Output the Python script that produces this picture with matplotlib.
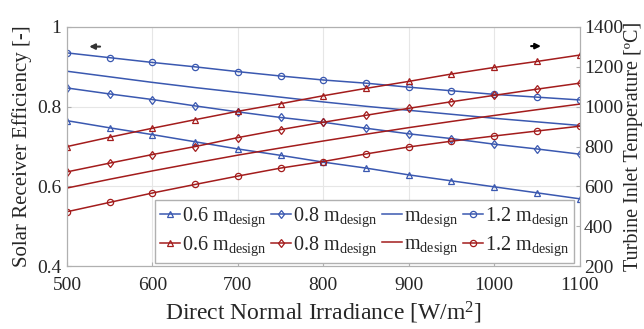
import numpy as np
import matplotlib.pyplot as plt

plt.rcParams['font.family'] = ['Liberation Serif', 'DejaVu Serif']
plt.rcParams['mathtext.fontset'] = 'custom'
plt.rcParams['mathtext.rm'] = 'Liberation Serif'
plt.rcParams['mathtext.it'] = 'Liberation Serif:italic'

dni = [500, 550, 600, 650, 700, 750, 800, 850, 900, 950, 1000, 1050, 1100]

# receiver efficiency [-]
eff_06 = [0.765, 0.747, 0.730, 0.712, 0.694, 0.678, 0.661, 0.646, 0.629, 0.614, 0.599, 0.584, 0.569]
eff_08 = [0.847, 0.832, 0.818, 0.802, 0.787, 0.773, 0.761, 0.746, 0.732, 0.720, 0.706, 0.694, 0.681]
eff_10 = [0.889, 0.875, 0.861, 0.848, 0.836, 0.824, 0.812, 0.801, 0.791, 0.781, 0.771, 0.762, 0.753]
eff_12 = [0.935, 0.923, 0.911, 0.900, 0.888, 0.877, 0.867, 0.859, 0.849, 0.840, 0.831, 0.824, 0.817]

# turbine inlet temperature [C]
tit_06 = [800, 847, 892, 935, 977, 1015, 1055, 1092, 1127, 1164, 1197, 1227, 1259]
tit_08 = [673, 717, 760, 800, 845, 885, 922, 957, 992, 1025, 1057, 1088, 1118]
tit_10 = [592, 636, 678, 718, 757, 793, 828, 862, 895, 926, 956, 985, 1013]
tit_12 = [473, 520, 567, 610, 652, 692, 725, 763, 798, 827, 853, 878, 902]

labels = ['0.6 m$_{\\mathrm{design}}$', '0.8 m$_{\\mathrm{design}}$',
          'm$_{\\mathrm{design}}$', '1.2 m$_{\\mathrm{design}}$']
markers = ['^', 'd', None, 'o']

blue = '#3a58b0'
red = '#a31c1c'
txt = '#262626'

fig, ax = plt.subplots(figsize=(6.44, 3.29), dpi=100)
fig.subplots_adjust(left=0.104, right=0.9, top=0.918, bottom=0.191)
ax2 = ax.twinx()

hb = []
for y, m, lab in zip([eff_06, eff_08, eff_10, eff_12], markers, labels):
    l, = ax.plot(dni, y, color=blue, lw=1.1, marker=m, ms=4.5, mfc='none',
                 mew=0.9, label=lab)
    hb.append(l)
hr = []
for y, m, lab in zip([tit_06, tit_08, tit_10, tit_12], markers, labels):
    l, = ax2.plot(dni, y, color=red, lw=1.1, marker=m, ms=4.5, mfc='none',
                  mew=0.9, label=lab)
    hr.append(l)

ax.set_xlim(500, 1100)
ax.set_ylim(0.4, 1.0)
ax2.set_ylim(200, 1400)
ax.set_xticks(range(500, 1101, 100))
ax.set_yticks([0.4, 0.6, 0.8, 1.0])
ax.set_yticklabels(['0.4', '0.6', '0.8', '1'])
ax2.set_yticks(range(200, 1401, 200))
ax.grid(True, color='#e6e6e6', lw=0.8)
ax.set_axisbelow(True)

for a in (ax, ax2):
    for s in a.spines.values():
        s.set_color('#b0b0b0')
        s.set_linewidth(0.8)
    a.tick_params(labelsize=14, colors=txt, direction='in', length=3,
                  color='#b0b0b0')
ax.tick_params(axis='x', pad=8)
ax.tick_params(axis='y', pad=4)
ax2.tick_params(axis='y', pad=3)

ax.set_xlabel('Direct Normal Irradiance [W/m$^2$]', fontsize=17, color=txt,
              labelpad=4)
ax.set_ylabel('Solar Receiver Efficiency [-]', fontsize=15, color=txt)
ax2.set_ylabel('Turbine Inlet Temperature [ºC]', fontsize=14.5, color=txt,
               rotation=90, va='center', ha='center')
ax2.yaxis.set_label_coords(1.105, 0.5)

handles = []
for b, r in zip(hb, hr):
    handles += [b, r]
leg = ax2.legend(handles, [h.get_label() for h in handles], ncol=4,
                 loc='lower right', fontsize=14.5, handlelength=1.0,
                 handletextpad=0.1, columnspacing=0.2, borderpad=0.25,
                 labelspacing=0.3, fancybox=False, framealpha=1,
                 edgecolor='#b0b0b0', borderaxespad=0,
                 bbox_to_anchor=(0.99, 0.0125))
for t in leg.get_texts():
    t.set_color(txt)

ax.annotate('', xy=(0.038, 0.918), xytext=(0.07, 0.918), xycoords='axes fraction',
            arrowprops=dict(arrowstyle='-|>', color='#333333', lw=1.5,
                            mutation_scale=8))
ax.annotate('', xy=(0.93, 0.92), xytext=(0.9, 0.92), xycoords='axes fraction',
            arrowprops=dict(arrowstyle='-|>', color='black', lw=1.5,
                            mutation_scale=8))

fig.savefig('out.png', dpi=100)
